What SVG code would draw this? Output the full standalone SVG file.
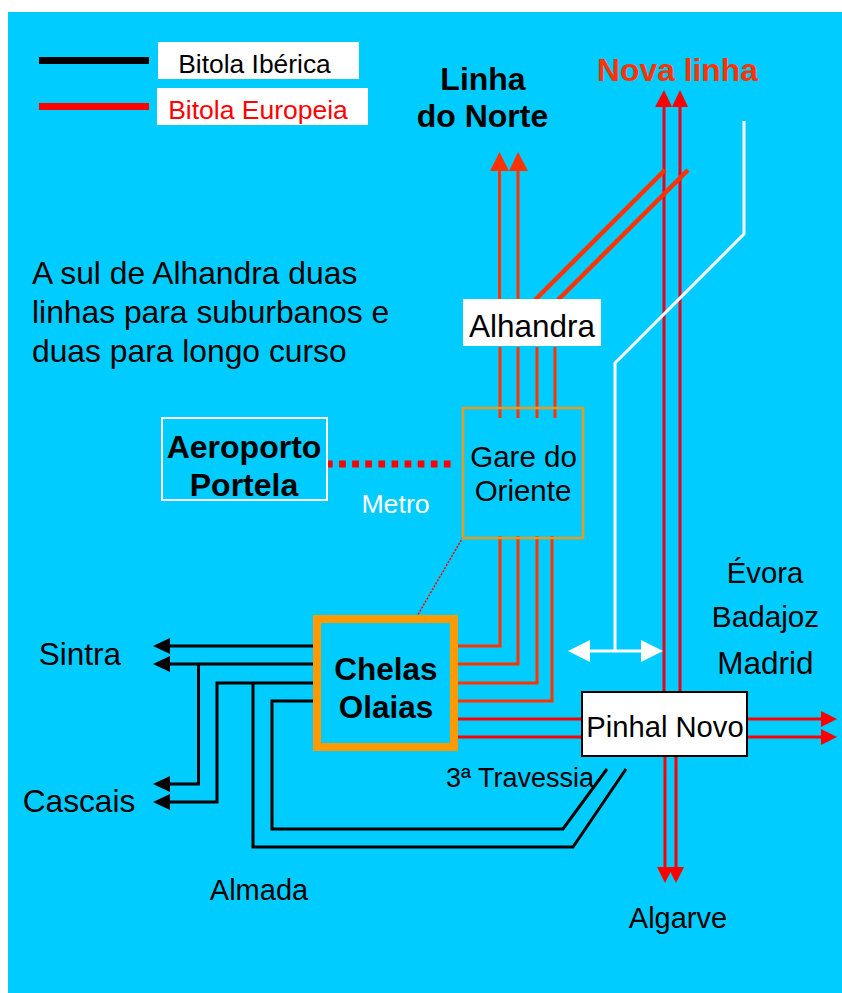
<svg xmlns="http://www.w3.org/2000/svg" width="842" height="993" viewBox="0 0 842 993">
<style>
text{font-family:"Liberation Sans",Arial,sans-serif;fill:#000;text-anchor:middle}
.b{font-weight:700}
.l{text-anchor:start}
.k{fill:none;stroke:#000;stroke-width:3}
.o{fill:none;stroke:#ff3300;stroke-width:3}
.r{fill:none;stroke:#ff0000;stroke-width:3}
</style>
<defs>
<polygon id="hk" points="0,0 17,-8 17,8" fill="#000"/>
<polygon id="hr" points="0,0 -16,-8 -16,8" fill="#f00"/>
</defs>
<rect x="8" y="12" width="834" height="981" fill="#00ccff"/>
<g id="legend">
<rect x="39" y="57" width="110" height="7" fill="#000"/>
<rect x="39" y="103" width="110" height="7" fill="#f00"/>
<rect x="158" y="42" width="201" height="37" fill="#fff"/>
<rect x="157" y="88" width="211" height="37" fill="#fff"/>
<text x="254.500" y="73" font-size="26.400">Bitola Ibérica</text>
<text x="258" y="119" font-size="26.500" style="fill:#f00">Bitola Europeia</text>
</g>
<g id="connectors">
<path class="o" d="M499.500 170V299M518 170V299"/>
<polygon points="499.500,152 490,171 509,171" fill="#ff3300"/>
<polygon points="518,152 509,171 528,171" fill="#ff3300"/>
<path d="M664 107V692M680 107V692" fill="none" stroke="#e8001c" stroke-width="3"/>
<polygon points="664,90 655,107 672,107" fill="#f00"/>
<polygon points="680,90 672,107 688,107" fill="#f00"/>
<path d="M535 300L665 170M558 300L688 170" fill="none" stroke="#ff3300" stroke-width="4.500"/>
<path d="M744 121V234L615 363V651" fill="none" stroke="#fff" stroke-width="3"/>
<path d="M590 651H641" stroke="#fff" stroke-width="3"/>
<polygon points="568,651 590,640 590,662" fill="#fff"/>
<polygon points="663,651 641,640 641,662" fill="#fff"/>
<path class="o" d="M500 347V418M518 347V418M537 347V418M555 347V418"/>
<path class="o" d="M458 646H500V536M458 664H518V536M458 683H537V536M458 701H552V536"/>
<path class="r" d="M458 719H582M458 737H582M748 719H822M748 737H822"/>
<use href="#hr" x="837" y="719"/>
<use href="#hr" x="837" y="737"/>
<path class="r" d="M665 757V868M676 757V868"/>
<polygon points="665,883 657,867 673,867" fill="#f00"/>
<polygon points="676,883 668,867 684,867" fill="#f00"/>
<path d="M326 464H451" fill="none" stroke="#f00" stroke-width="7" stroke-dasharray="6.700 6.400"/>
<path d="M463 537L416 618" fill="none" stroke="#f00" stroke-width="1.500" stroke-dasharray="2 1.500"/>
<path class="k" d="M170 646H314M170 664H314M198.500 664V784H170M170 802H217V683H314M253 683V847H573L626 769M314 701H272V829H563L607 769"/>
<use href="#hk" x="153" y="646"/>
<use href="#hk" x="153" y="664"/>
<use href="#hk" x="153" y="784"/>
<use href="#hk" x="153" y="802"/>
</g>
<g id="alhandra">
<rect x="463" y="299" width="138" height="47" fill="#fff"/>
<text x="532" y="337" font-size="31.500">Alhandra</text>
</g>
<g id="gare-oriente">
<rect x="463" y="408" width="120" height="130" fill="none" stroke="#e69a1e" stroke-width="2.500"/>
<text x="523.500" y="467" font-size="29.500">Gare do</text>
<text x="523" y="501" font-size="29.500">Oriente</text>
</g>
<g id="aeroporto">
<rect x="162" y="418" width="165" height="82" fill="none" stroke="#fff" stroke-width="2"/>
<text class="b" x="244" y="458" font-size="32">Aeroporto</text>
<text class="b" x="244" y="495.500" font-size="32">Portela</text>
</g>
<g id="chelas">
<rect x="317" y="619" width="137" height="128" fill="none" stroke="#ff9900" stroke-width="8"/>
<text class="b" x="386" y="680" font-size="31.500">Chelas</text>
<text class="b" x="386" y="718" font-size="31.500">Olaias</text>
</g>
<g id="pinhal">
<rect x="582" y="692" width="165" height="64" fill="#fff" stroke="#000" stroke-width="2"/>
<text x="665" y="737" font-size="29.200">Pinhal Novo</text>
</g>
<g id="labels">
<text class="b" x="483" y="90" font-size="32">Linha</text>
<text class="b" x="482.500" y="127" font-size="32">do Norte</text>
<text class="b" x="677.500" y="81" font-size="31.800" style="fill:#ff3300">Nova linha</text>
<text class="l" x="32" y="284" font-size="31.800">A sul de Alhandra duas</text>
<text class="l" x="32" y="323" font-size="31.800">linhas para suburbanos e</text>
<text class="l" x="32" y="362" font-size="31.800">duas para longo curso</text>
<text x="395.500" y="513" font-size="26.700" style="fill:#fff">Metro</text>
<text x="765" y="583" font-size="29.300">Évora</text>
<text x="765.500" y="627" font-size="29.700">Badajoz</text>
<text x="765.500" y="674" font-size="31.500">Madrid</text>
<text x="80" y="665" font-size="31.500">Sintra</text>
<text x="79" y="812" font-size="31.700">Cascais</text>
<text x="520" y="787" font-size="27">3ª Travessia</text>
<text x="259" y="900" font-size="29">Almada</text>
<text x="678" y="928" font-size="29">Algarve</text>
</g>
</svg>
